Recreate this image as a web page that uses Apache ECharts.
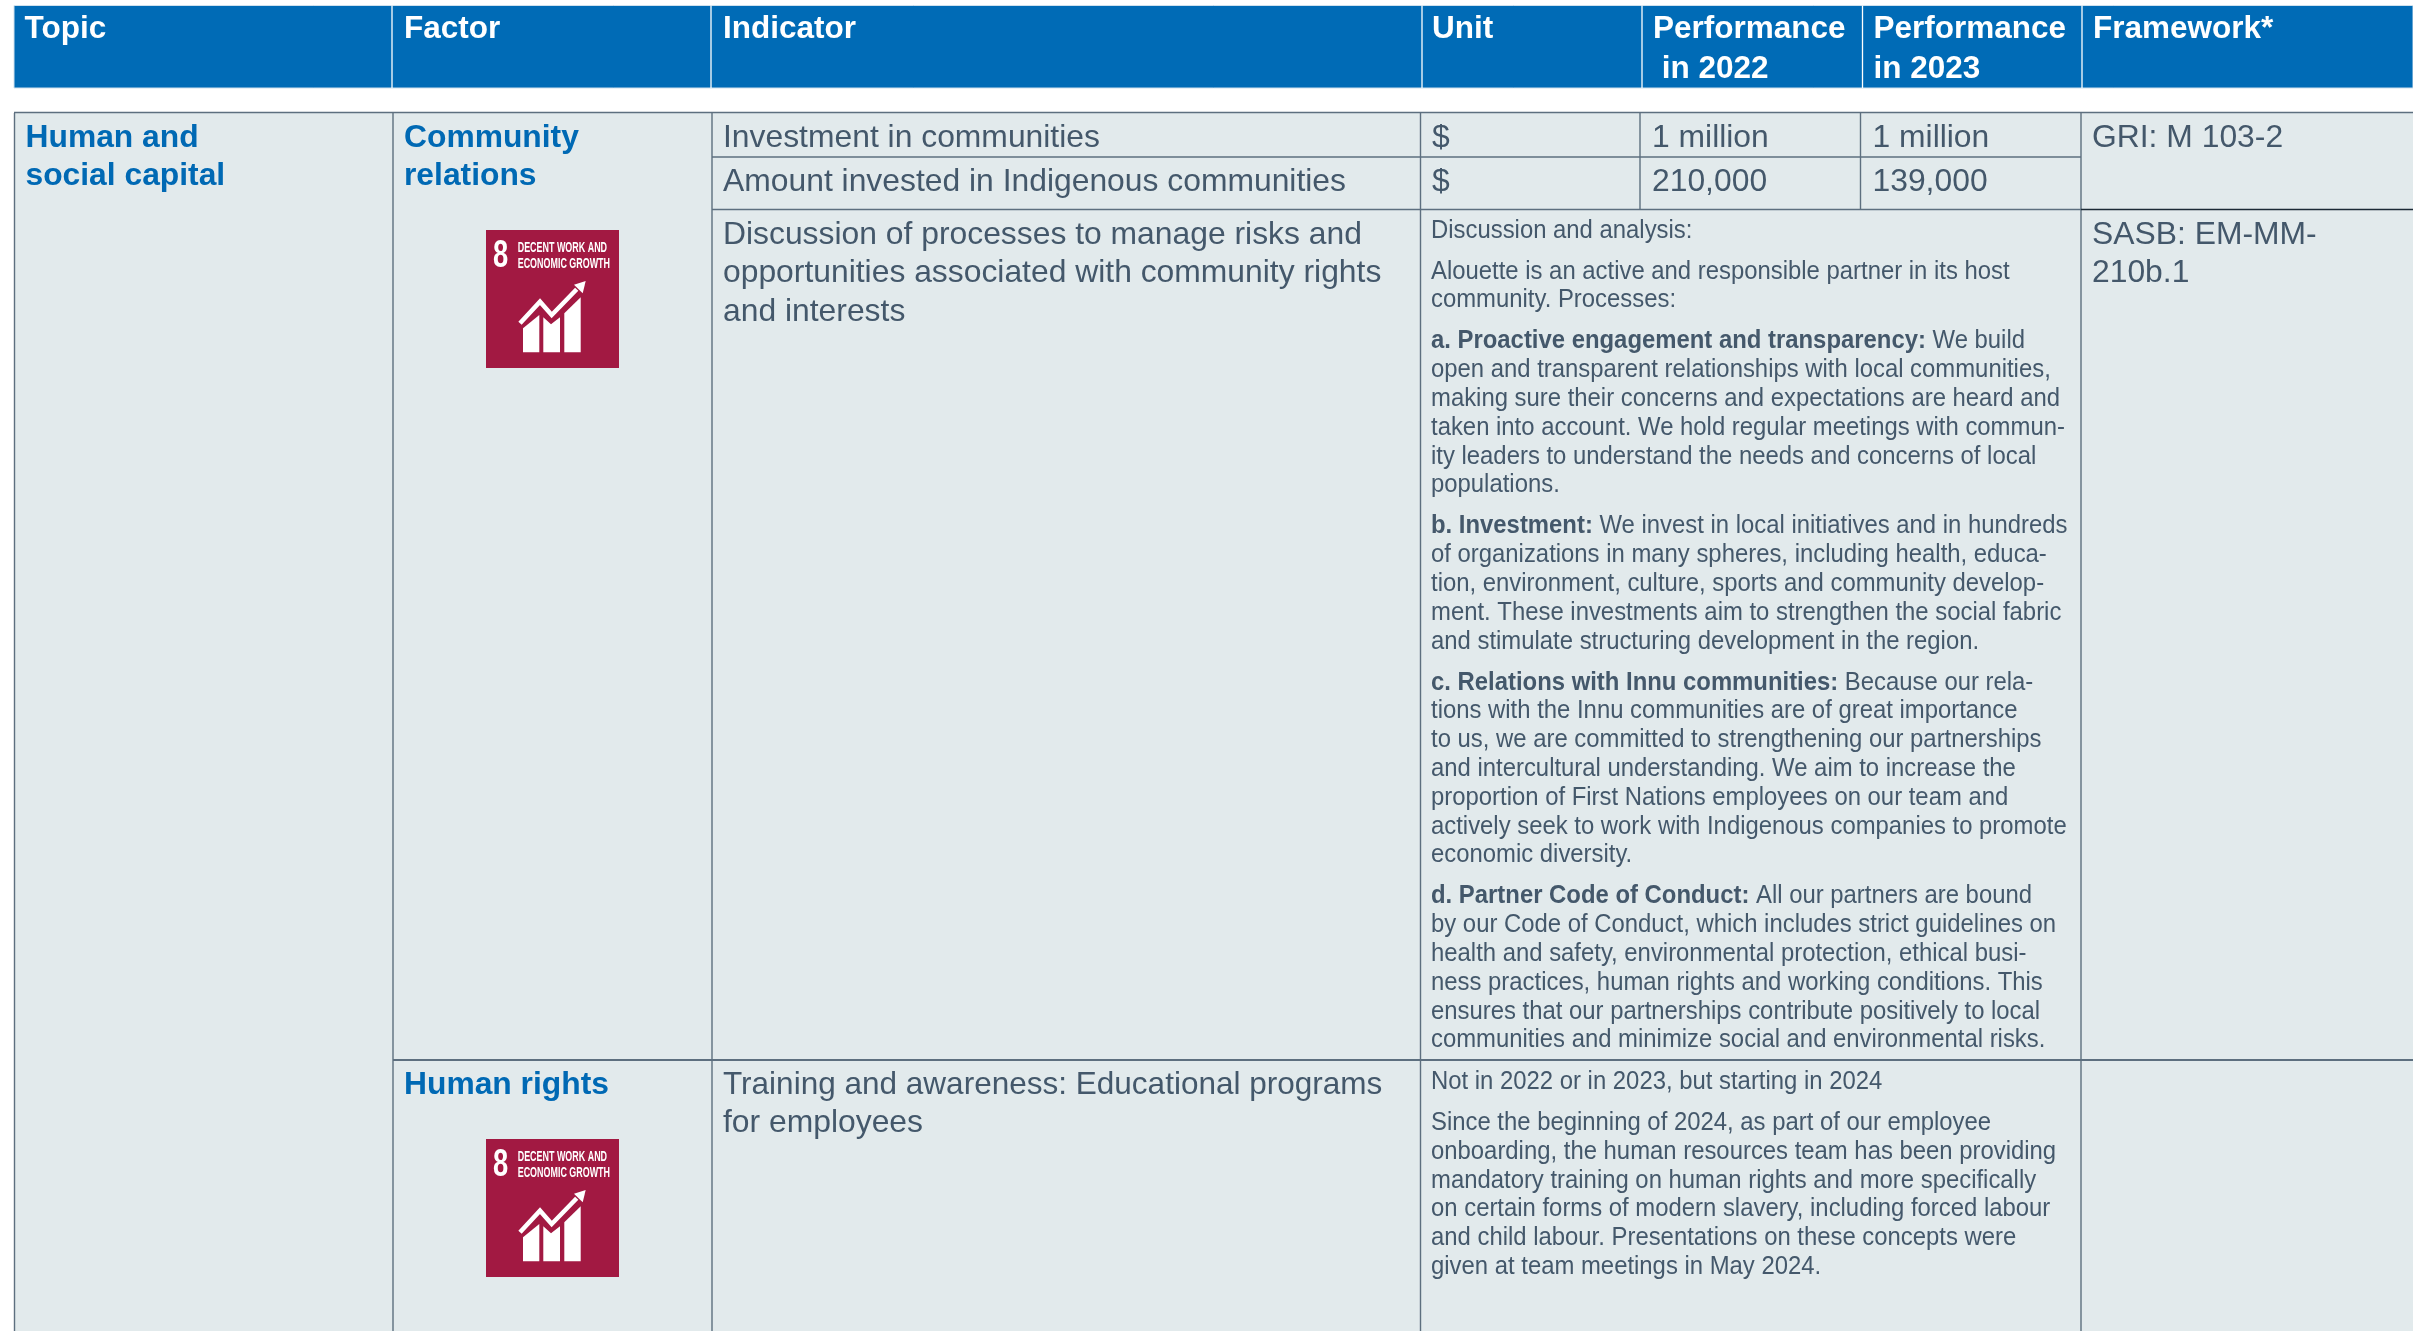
<!DOCTYPE html>
<html><head><meta charset="utf-8">
<style>html,body{margin:0;padding:0;background:#fff}#c{width:2413px;height:1331px}</style>
<script src="https://cdn.jsdelivr.net/npm/echarts@6/dist/echarts.min.js"></script>
</head><body><div id="c"></div>
<script>
// ---- table content ----
const headerLabels = ['Topic','Factor','Indicator','Unit'];
const perfHeaders = [['Performance',' in 2022'],['Performance','in 2023']];
const frameworkHeader = 'Framework*';
const topicLines = ['Human and','social capital'];
const factorCommunity = ['Community','relations'];
const factorRights = ['Human rights'];
const indicatorInvest = 'Investment in communities';
const indicatorIndigenous = 'Amount invested in Indigenous communities';
const indicatorProcess = ['Discussion of processes to manage risks and','opportunities associated with community rights','and interests'];
const indicatorTraining = ['Training and awareness: Educational programs','for employees'];
const units = ['$','$'];
const perf2022 = ['1 million','210,000'];
const perf2023 = ['1 million','139,000'];
const frameworkGri = 'GRI: M 103-2';
const frameworkSasb = ['SASB: EM-MM-','210b.1'];
const sdgTitle = ['DECENT WORK AND','ECONOMIC GROWTH'];
const sdgNumber = '8';
const discussion = [
 ['Discussion and analysis:'],
 ['Alouette is an active and responsible partner in its host','community. Processes:'],
 ['{b|a. Proactive engagement and transparency:} We build','open and transparent relationships with local communities,','making sure their concerns and expectations are heard and','taken into account. We hold regular meetings with commun-','ity leaders to understand the needs and concerns of local','populations.'],
 ['{b|b. Investment:} We invest in local initiatives and in hundreds','of organizations in many spheres, including health, educa-','tion, environment, culture, sports and community develop-','ment. These investments aim to strengthen the social fabric','and stimulate structuring development in the region.'],
 ['{b|c. Relations with Innu communities:} Because our rela-','tions with the Innu communities are of great importance','to us, we are committed to strengthening our partnerships','and intercultural understanding. We aim to increase the','proportion of First Nations employees on our team and','actively seek to work with Indigenous companies to promote','economic diversity.'],
 ['{b|d. Partner Code of Conduct:} All our partners are bound','by our Code of Conduct, which includes strict guidelines on','health and safety, environmental protection, ethical busi-','ness practices, human rights and working conditions. This','ensures that our partnerships contribute positively to local','communities and minimize social and environmental risks.']
];
const rightsText = [
 ['Not in 2022 or in 2023, but starting in 2024'],
 ['Since the beginning of 2024, as part of our employee','onboarding, the human resources team has been providing','mandatory training on human rights and more specifically','on certain forms of modern slavery, including forced labour','and child labour. Presentations on these concepts were','given at team meetings in May 2024.']
];

// ---- layout ----
const W=2413,H=1331;
const FONT='"Liberation Sans",Arial,sans-serif';
const HEAD='#006bb6',BODY='#e2eaec',RULE='#5d6f7f',INK='#44586b',BLUE='#0069b4',SDG='#a21942';
const fills=[[14,5.5,W,88,HEAD,'#cfe1ee'],[14,113,W,1331,BODY,null]];
const rules=[ // x0,y0,x1,y1,color,weight
 [14,112.5,W,112.5,RULE,1.6],[14.5,113,14.5,1331,RULE,1.4],
 [393,113,393,1331,RULE,1.4],[712,113,712,1331,RULE,1.4],[1420.5,113,1420.5,1331,RULE,1.4],
 [1640,113,1640,209.5,RULE,1.4],[1860.5,113,1860.5,209.5,RULE,1.4],[2081,113,2081,1331,RULE,1.4],
 [712,157,2081,157,RULE,1.6],[712,209.5,2081,209.5,RULE,1.6],[2081,209.5,W,209.5,'#1c2a36',1.6],
 [393,1060,W,1060,RULE,1.8],
 [392,5.5,392,88,'#fff',1.3],[711,5.5,711,88,'#fff',1.3],[1422,5.5,1422,88,'#fff',1.3],
 [1642,5.5,1642,88,'#fff',1.3],[1862.5,5.5,1862.5,88,'#fff',1.3],[2082,5.5,2082,88,'#fff',1.3]
];
const LG=32,SM=25,HD=31.5,BLF=31.8,XLG=0.995,XSM=0.955,XHD=1,LH_L=38.4,LH_S=28.8,PARA=41,NUDGE=2.8;
const texts=[];
function put(x,base,t,o){texts.push(Object.assign({x,base,t,fs:LG,sx:XLG,fill:INK,w:'normal'},o||{}));}
const hd={fs:HD,sx:XHD,fill:'#fff',w:'bold'}, bl={fs:BLF,sx:XHD,fill:BLUE,w:'bold'};
[24.5,404,723,1432].forEach((x,i)=>put(x,37.8,headerLabels[i],hd));
perfHeaders.forEach((p,i)=>{const x=[1653,1873.5][i];put(x,37.8,p[0],hd);put(x,77.4,p[1],hd);});
put(2093,37.8,frameworkHeader,hd);
topicLines.forEach((t,i)=>put(25.5,146.7+i*38,t,bl));
factorCommunity.forEach((t,i)=>put(404,146.7+i*38,t,bl));
factorRights.forEach((t,i)=>put(404,1093.3+i*38,t,bl));
put(723,146.7,indicatorInvest);put(723,190.7,indicatorIndigenous);
indicatorProcess.forEach((t,i)=>put(723,243.3+i*LH_L,t));
indicatorTraining.forEach((t,i)=>put(723,1093.3+i*LH_L,t,i?{}:{sx:0.985}));
[146.7,190.7].forEach((b,i)=>{put(1432,b,units[i]);put(1652,b,perf2022[i]);put(1872.5,b,perf2023[i]);});
put(2092,146.7,frameworkGri);
frameworkSasb.forEach((t,i)=>put(2092,243.3+i*LH_L,t));
function block(paras,base){let y=base;paras.forEach((p,pi)=>{if(pi)y+=PARA-LH_S;p.forEach(l=>{put(1431,y,l,{fs:SM,sx:XSM});y+=LH_S;});});}
block(discussion,236.5);block(rightsText,1088);
const tiles=[[486,230],[486,1139]];

function renderFill(p,api){const f=fills[api.value(0)];const a=api.coord([f[0],f[1]]),b=api.coord([f[2],f[3]]);
 return {type:'rect',shape:{x:a[0],y:a[1],width:b[0]-a[0],height:b[1]-a[1]},style:{fill:f[4],stroke:f[5],lineWidth:f[5]?1:0}};}
function renderRule(p,api){const r=rules[api.value(0)];const a=api.coord([r[0],r[1]]),b=api.coord([r[2],r[3]]);
 return {type:'line',shape:{x1:a[0],y1:a[1],x2:b[0],y2:b[1]},style:{stroke:r[4],lineWidth:r[5]}};}
function renderText(p,api){const t=texts[api.value(0)];const a=api.coord([t.x,t.base-0.346*t.fs+NUDGE]);
 return {type:'text',x:a[0],y:a[1],scaleX:t.sx,style:{text:t.t,fill:t.fill,fontFamily:FONT,fontSize:t.fs,fontWeight:t.w,align:'left',verticalAlign:'middle',
  rich:{b:{fontFamily:FONT,fontSize:t.fs,fontWeight:'bold',fill:t.fill}}}};}
function renderTile(p,api){const q=tiles[api.value(0)];const a=api.coord(q);
 const w='#fff';const bars=[[[37,98.3],[53.3,85],[53.3,122.3],[37,122.3]],
  [[57.3,87.3],[65,94.3],[74,87.3],[74,122.3],[57.3,122.3]],
  [[78.3,83.3],[94.7,67.3],[94.7,122.3],[78.3,122.3]]];
 const kids=[{type:'rect',shape:{x:0,y:0,width:133,height:138},style:{fill:SDG}}];
 bars.forEach(b=>kids.push({type:'polygon',shape:{points:b},style:{fill:w}}));
 kids.push({type:'polyline',shape:{points:[[34,93.3],[54,71.7],[65.7,85],[90.7,59.3]]},style:{stroke:w,fill:null,lineWidth:4.5}});
 kids.push({type:'polygon',shape:{points:[[99.7,51],[88,54.7],[96.7,63.3]]},style:{fill:w}});
 kids.push({type:'text',x:7,y:27,scaleX:0.72,style:{text:sdgNumber,fill:w,fontFamily:FONT,fontWeight:'bold',fontSize:38,verticalAlign:'middle',align:'left'}});
 sdgTitle.forEach((s,i)=>kids.push({type:'text',x:31.7,y:17.8+i*16.2,scaleX:0.625,style:{text:s,fill:w,fontFamily:FONT,fontWeight:'bold',fontSize:14.3,verticalAlign:'middle',align:'left'}}));
 return {type:'group',x:a[0],y:a[1],children:kids};}
function ser(list,fn,z){return {type:'custom',coordinateSystem:'cartesian2d',clip:false,silent:true,z,animation:false,
 encode:{x:0,y:0},data:list.map((_,i)=>[i]),renderItem:fn};}

const chart=echarts.init(document.getElementById('c'),null,{renderer:'canvas'});
chart.setOption({animation:false,backgroundColor:'#fff',tooltip:{show:false},
 grid:{left:0,right:0,top:0,bottom:0},
 xAxis:{type:'value',min:0,max:W,show:false},
 yAxis:{type:'value',min:0,max:H,inverse:true,show:false},
 series:[ser(fills,renderFill,1),ser(rules,renderRule,2),ser(tiles,renderTile,3),ser(texts,renderText,4)]});
</script></body></html>
